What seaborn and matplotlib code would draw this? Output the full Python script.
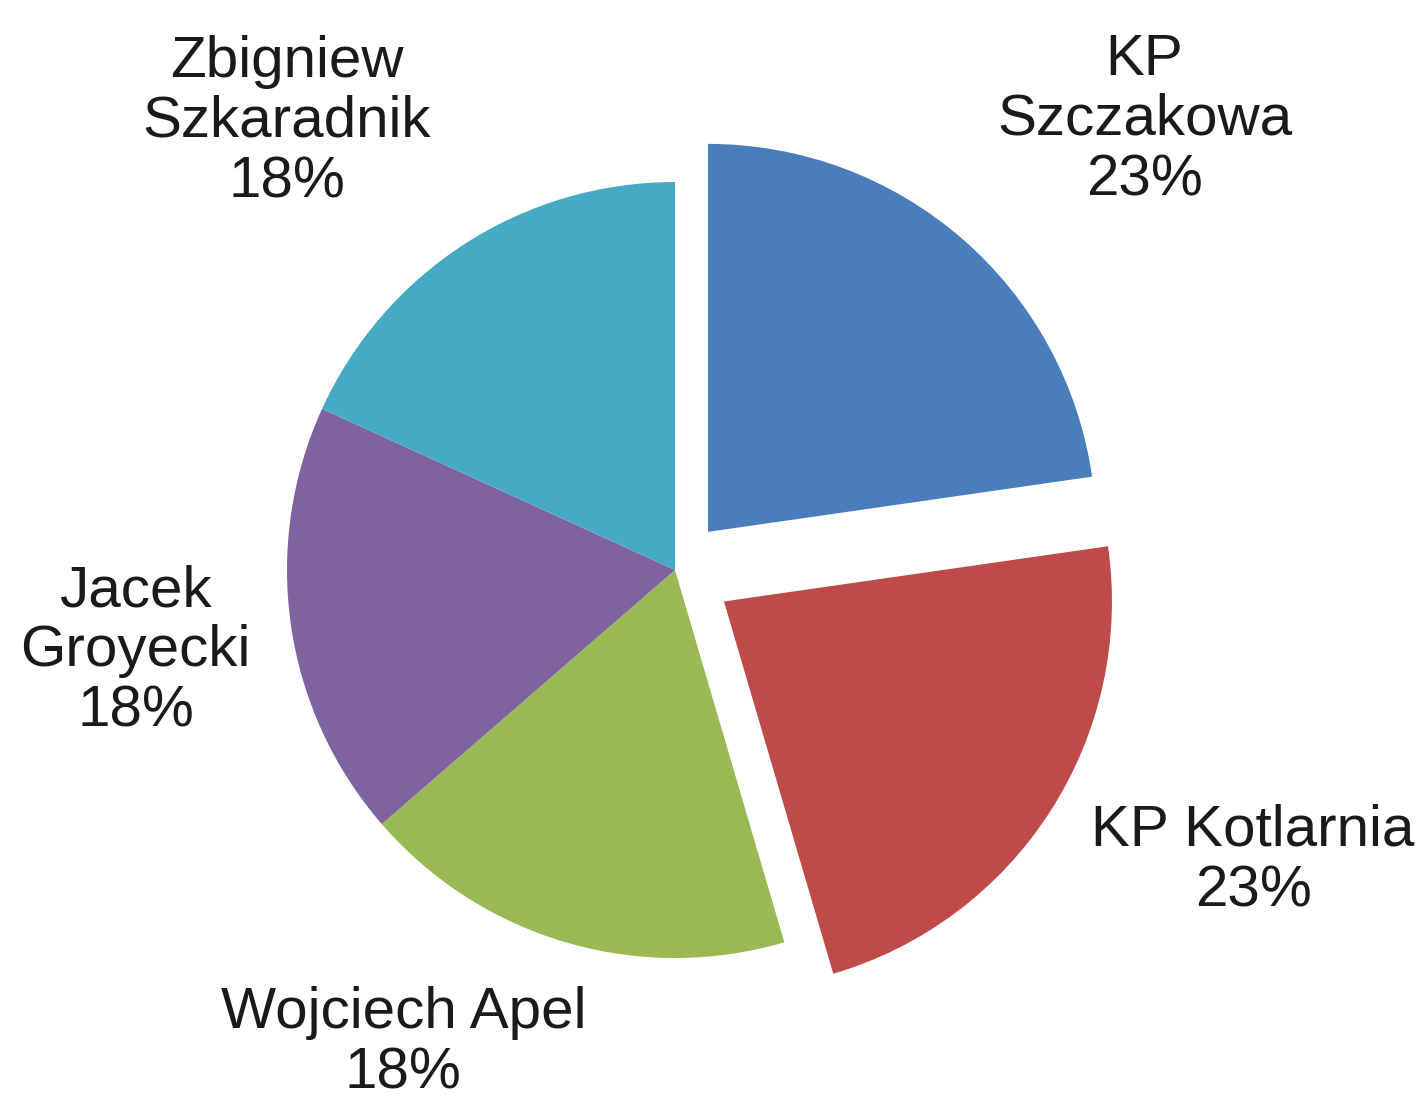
import matplotlib
matplotlib.use("Agg")
import matplotlib.pyplot as plt
import seaborn as sns

# --- Data ---
names = ["KP\nSzczakowa", "KP Kotlarnia", "Wojciech Apel", "Jacek\nGroyecki", "Zbigniew\nSzkaradnik"]
counts = [5, 5, 4, 4, 4]
colors = ["#4a7ebb", "#be4b48", "#98b954", "#7f63a1", "#46aac5"]
explode = [0.13, 0.15, 0, 0, 0]

# label centres (pie radius units), tuned to the reference layout
label_pos = [(1.21, 1.16), (1.49, -0.75), (-0.70, -1.22), (-1.39, -0.21), (-1.00, 1.155)]

sns.set_theme(style="white")
plt.rcParams['font.family'] = ['Liberation Sans', 'DejaVu Sans']

fig = plt.figure(figsize=(14.26, 11.10), dpi=100)
ax = fig.add_axes([0, 0, 1, 1])

total = sum(counts)
labels = [f"{n}\n{round(100 * c / total)}%" for n, c in zip(names, counts)]

wedges, texts = ax.pie(counts, labels=labels, colors=colors, explode=explode,
                       startangle=90, counterclock=False, radius=1.0,
                       labeldistance=1.45,
                       wedgeprops=dict(linewidth=0),
                       textprops=dict(fontsize=42, color="#1a1a1a"))

for t, (x, y) in zip(texts, label_pos):
    t.set_position((x, y))
    t.set_ha("center")
    t.set_va("center")
    t.set_multialignment("center")
    t.set_linespacing(1.15)

# pie centre at (675, 570) px, radius 388 px
ax.set_xlim(-675 / 388, (1426 - 675) / 388)
ax.set_ylim(-(1110 - 570) / 388, 570 / 388)
ax.set_aspect("auto")
ax.axis("off")

fig.savefig("out.png", dpi=100, facecolor="white")
